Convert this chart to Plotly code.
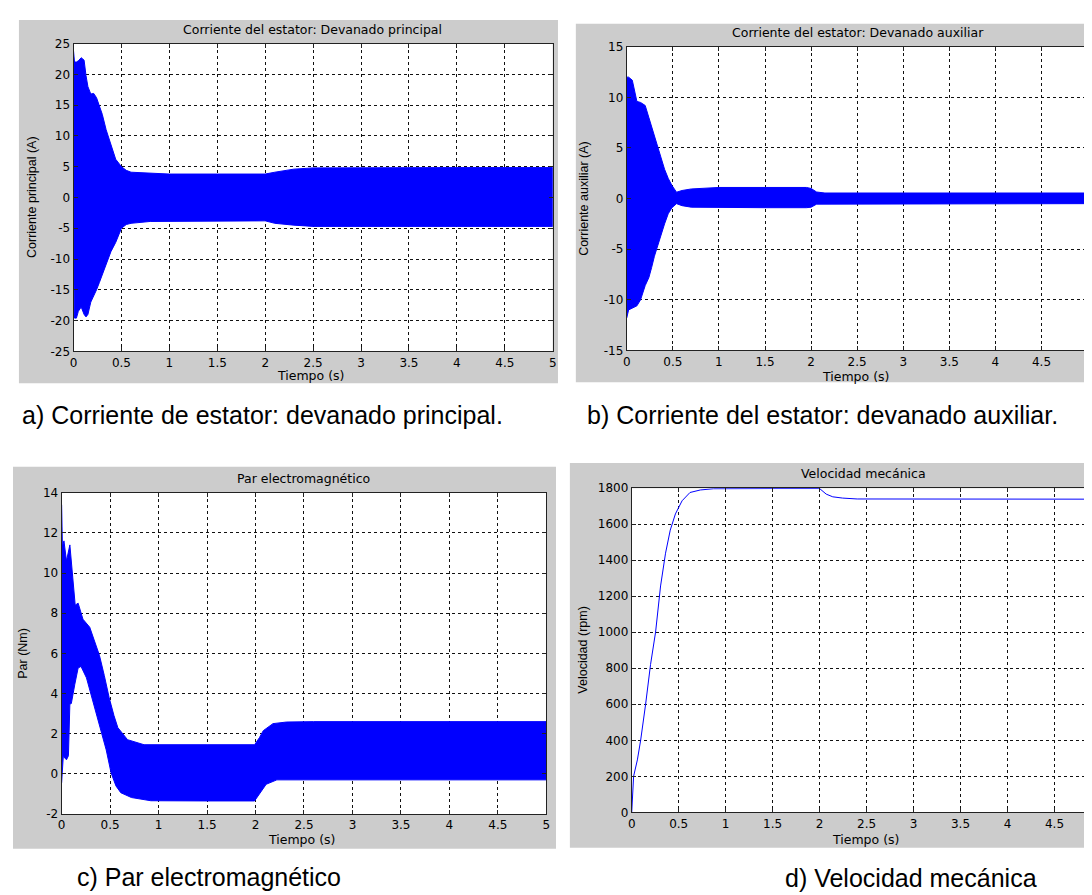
import plotly.graph_objects as go

W, H = 1092, 895

# ---------------- data ----------------
# a) main winding current: envelope of the oscillating signal
t_a = [0, 0.01, 0.03, 0.05, 0.08, 0.11, 0.13, 0.15, 0.18, 0.21, 0.24, 0.27, 0.30, 0.34,
       0.39, 0.44, 0.50, 0.55, 0.60, 0.80, 1.0, 1.5, 1.9, 2.0, 2.1, 2.2, 2.3, 2.5, 3.0, 4.0, 5.0]
upper_a = [23.8, 22.0, 22.0, 22.2, 22.7, 22.3, 19.8, 18.0, 16.8, 16.9, 16.2, 14.8, 13.5, 11.0,
           8.6, 6.2, 5.0, 4.4, 4.1, 3.9, 3.8, 3.8, 3.8, 3.8, 4.1, 4.4, 4.6, 4.8, 4.85, 4.85, 4.85]
lower_a = [-8.5, -19.6, -19.6, -18.5, -17.8, -19.0, -19.4, -19.0, -17.0, -15.9, -15.0, -13.8, -12.8, -11.0,
           -8.8, -7.3, -5.0, -4.4, -4.2, -3.9, -3.8, -3.8, -3.8, -3.8, -4.2, -4.4, -4.5, -4.7, -4.7, -4.7, -4.7]

# b) auxiliary winding current
t_b = [0, 0.02, 0.06, 0.11, 0.15, 0.20, 0.24, 0.27, 0.30, 0.34, 0.38, 0.41, 0.45, 0.49,
       0.54, 0.60, 0.70, 1.0, 1.5, 1.95, 2.0, 2.06, 2.15, 2.3, 3.0, 4.0, 5.0]
upper_b = [12.0, 12.0, 11.7, 9.6, 9.5, 9.2, 8.0, 7.1, 6.3, 5.2, 4.0, 2.9, 2.0, 1.3,
           0.63, 0.8, 0.95, 1.1, 1.1, 1.1, 1.0, 0.65, 0.55, 0.55, 0.55, 0.55, 0.55]
lower_b = [-11.8, -11.0, -10.8, -10.6, -10.0, -8.6, -7.8, -6.8, -5.7, -4.4, -3.4, -2.5, -1.5, -0.9,
           -0.5, -0.7, -0.85, -0.9, -0.9, -0.9, -0.85, -0.55, -0.5, -0.5, -0.5, -0.5, -0.5]

# c) electromagnetic torque
t_c_up = [0, 0.004, 0.008, 0.024, 0.05, 0.085, 0.11, 0.14, 0.17, 0.22, 0.29, 0.34, 0.39, 0.44,
          0.49, 0.54, 0.58, 0.68, 0.85, 1.5, 1.99, 2.04, 2.08, 2.18, 2.32, 2.6, 3.5, 5.0]
upper_c = [13.4, 12.5, 11.3, 11.6, 10.6, 11.4, 10.0, 8.4, 8.5, 7.7, 7.3, 6.6, 5.9, 4.9,
           3.8, 2.9, 2.3, 1.7, 1.45, 1.45, 1.45, 1.8, 2.15, 2.5, 2.58, 2.6, 2.6, 2.6]
t_c_low = [0, 0.017, 0.05, 0.07, 0.085, 0.10, 0.136, 0.17, 0.20, 0.256, 0.32, 0.39, 0.46, 0.51,
           0.56, 0.61, 0.72, 0.92, 1.5, 1.99, 2.03, 2.11, 2.22, 2.42, 3.0, 4.0, 5.0]
lower_c = [-0.45, 0.87, 0.7, 0.9, 3.48, 3.5, 4.46, 5.27, 5.35, 4.78, 3.64, 2.41, 1.19, 0.05,
           -0.6, -0.94, -1.18, -1.34, -1.35, -1.35, -1.1, -0.52, -0.3, -0.3, -0.3, -0.3, -0.3]

# d) mechanical speed
t_d = [0, 0.02, 0.06, 0.095, 0.148, 0.20, 0.254, 0.307, 0.36, 0.41, 0.465, 0.536, 0.62, 0.73,
       0.87, 1.0, 1.5, 2.0, 2.03, 2.07, 2.14, 2.245, 2.4, 3.0, 4.0, 5.0]
speed_d = [0, 200, 291, 400, 601, 820, 1001, 1257, 1439, 1567, 1657, 1730, 1776, 1790,
           1797, 1798, 1798, 1798, 1785, 1767, 1752, 1745, 1740, 1739, 1739, 1739]

x_ticks = [0, 0.5, 1, 1.5, 2, 2.5, 3, 3.5, 4, 4.5, 5]
x_ticklabels = ["0", "0.5", "1", "1.5", "2", "2.5", "3", "3.5", "4", "4.5", "5"]
y_ticks_a = [-25, -20, -15, -10, -5, 0, 5, 10, 15, 20, 25]
y_ticks_b = [-15, -10, -5, 0, 5, 10, 15]
y_ticks_c = [-2, 0, 2, 4, 6, 8, 10, 12, 14]
y_ticks_d = [0, 200, 400, 600, 800, 1000, 1200, 1400, 1600, 1800]

titles = ["Corriente del estator: Devanado principal",
          "Corriente del estator: Devanado auxiliar",
          "Par electromagnético",
          "Velocidad mecánica"]
ylabels = ["Corriente principal (A)", "Corriente auxiliar (A)", "Par (Nm)", "Velocidad (rpm)"]
xlabel = "Tiempo (s)"
captions = ["a) Corriente de estator: devanado principal.",
            "b) Corriente del estator: devanado auxiliar.",
            "c) Par electromagnético",
            "d) Velocidad mecánica"]

# ---------------- layout helpers (pixel geometry) ----------------
def px(x):
    return x / W

def py(y):
    return 1 - y / H

BLUE = "#0000ff"
GRAY = "#cccccc"
FONT = "DejaVu Sans"
CAPFONT = "Liberation Sans, Arial, sans-serif"

# plot area pixel boxes (left, top, right, bottom)
plots = [(62, 29, 544.7, 341.7), (619.3, 32.3, 1083.5, 340.7),
         (50, 485.3, 538.3, 811.7), (624.3, 480.7, 1092, 810)]
boxes = [(7, 5, 550, 374), (568, 9, 1092, 373), (1, 459, 548, 847), (562, 455, 1092, 846)]
title_pos = [(303, 15), (852, 18), (294, 471), (858, 466)]
ylab_pos = [(20, 185), (576, 186), (11, 648), (575, 645)]
xlab_pos = [(301, 366), (850, 367), (292, 838), (860, 838)]
cap_pos = [(8, 406), (577, 406), (63, 876), (777, 877)]
yranges = [[-25, 25], [-15, 15], [-2, 14], [0, 1800]]
yticks = [y_ticks_a, y_ticks_b, y_ticks_c, y_ticks_d]
x_d_max = 5 * (1092 - 624.3) / (1097.5 - 624.3)
xranges = [[0, 5], [0, 5], [0, 5], [0, x_d_max]]

fig = go.Figure()

def band(t_up, up, t_low, low, i):
    xs = list(t_up) + list(t_low)[::-1]
    ys = list(up) + list(low)[::-1]
    sfx = "" if i == 0 else str(i + 1)
    fig.add_trace(go.Scatter(x=xs, y=ys, mode="lines", fill="toself", fillcolor=BLUE,
                             line=dict(color=BLUE, width=1), xaxis="x" + sfx, yaxis="y" + sfx,
                             showlegend=False, hoverinfo="skip"))

band(t_a, upper_a, t_a, lower_a, 0)
band(t_b, upper_b, t_b, lower_b, 1)
band(t_c_up, upper_c, t_c_low, lower_c, 2)
fig.add_trace(go.Scatter(x=t_d, y=speed_d, mode="lines", line=dict(color=BLUE, width=1),
                         xaxis="x4", yaxis="y4", showlegend=False))

shapes = []
annotations = []
layout_axes = {}
for i in range(4):
    l, t, r, b = plots[i]
    bl, bt, br, bb = boxes[i]
    shapes.append(dict(type="rect", xref="paper", yref="paper", x0=px(bl), x1=px(br),
                       y0=py(bb), y1=py(bt), fillcolor=GRAY, line=dict(width=0), layer="below"))
    shapes.append(dict(type="rect", xref="paper", yref="paper", x0=px(l), x1=px(r),
                       y0=py(b), y1=py(t), fillcolor="white", line=dict(width=0), layer="below"))
    sfx = "" if i == 0 else str(i + 1)
    common = dict(showline=True, linecolor="#222222", linewidth=1, mirror="ticks",
                  ticks="inside", ticklen=4, tickcolor="#222222",
                  showgrid=True, gridcolor="#111111", gridwidth=1, griddash="3px,3px",
                  zeroline=False, tickfont=dict(family=FONT, size=12, color="black"),
                  fixedrange=True)
    layout_axes["xaxis" + sfx] = dict(domain=[px(l), px(r)], range=xranges[i],
                                      tickvals=x_ticks, ticktext=x_ticklabels,
                                      anchor="y" + sfx, **common)
    layout_axes["yaxis" + sfx] = dict(domain=[py(b), py(t)], range=yranges[i],
                                      tickvals=yticks[i], ticktext=[str(v) for v in yticks[i]],
                                      anchor="x" + sfx, **common)
    annotations.append(dict(text=titles[i], x=px(title_pos[i][0]), y=py(title_pos[i][1]),
                            xref="paper", yref="paper", showarrow=False,
                            xanchor="center", yanchor="middle",
                            font=dict(family=FONT, size=12.5, color="black")))
    annotations.append(dict(text=ylabels[i], x=px(ylab_pos[i][0]), y=py(ylab_pos[i][1]),
                            xref="paper", yref="paper", showarrow=False, textangle=-90,
                            xanchor="center", yanchor="middle",
                            font=dict(family=CAPFONT, size=12.5, color="black")))
    annotations.append(dict(text=xlabel, x=px(xlab_pos[i][0]), y=py(xlab_pos[i][1]),
                            xref="paper", yref="paper", showarrow=False,
                            xanchor="center", yanchor="middle",
                            font=dict(family=FONT, size=12.5, color="black")))
    annotations.append(dict(text=captions[i], x=px(cap_pos[i][0]), y=py(cap_pos[i][1]),
                            xref="paper", yref="paper", showarrow=False,
                            xanchor="left", yanchor="middle",
                            font=dict(family=CAPFONT, size=25, color="black")))

fig.update_layout(width=W, height=H, margin=dict(l=0, r=0, t=0, b=0),
                  paper_bgcolor="white", plot_bgcolor="white",
                  shapes=shapes, annotations=annotations, showlegend=False,
                  **layout_axes)

fig.write_html("out.html", config={"displayModeBar": False})
